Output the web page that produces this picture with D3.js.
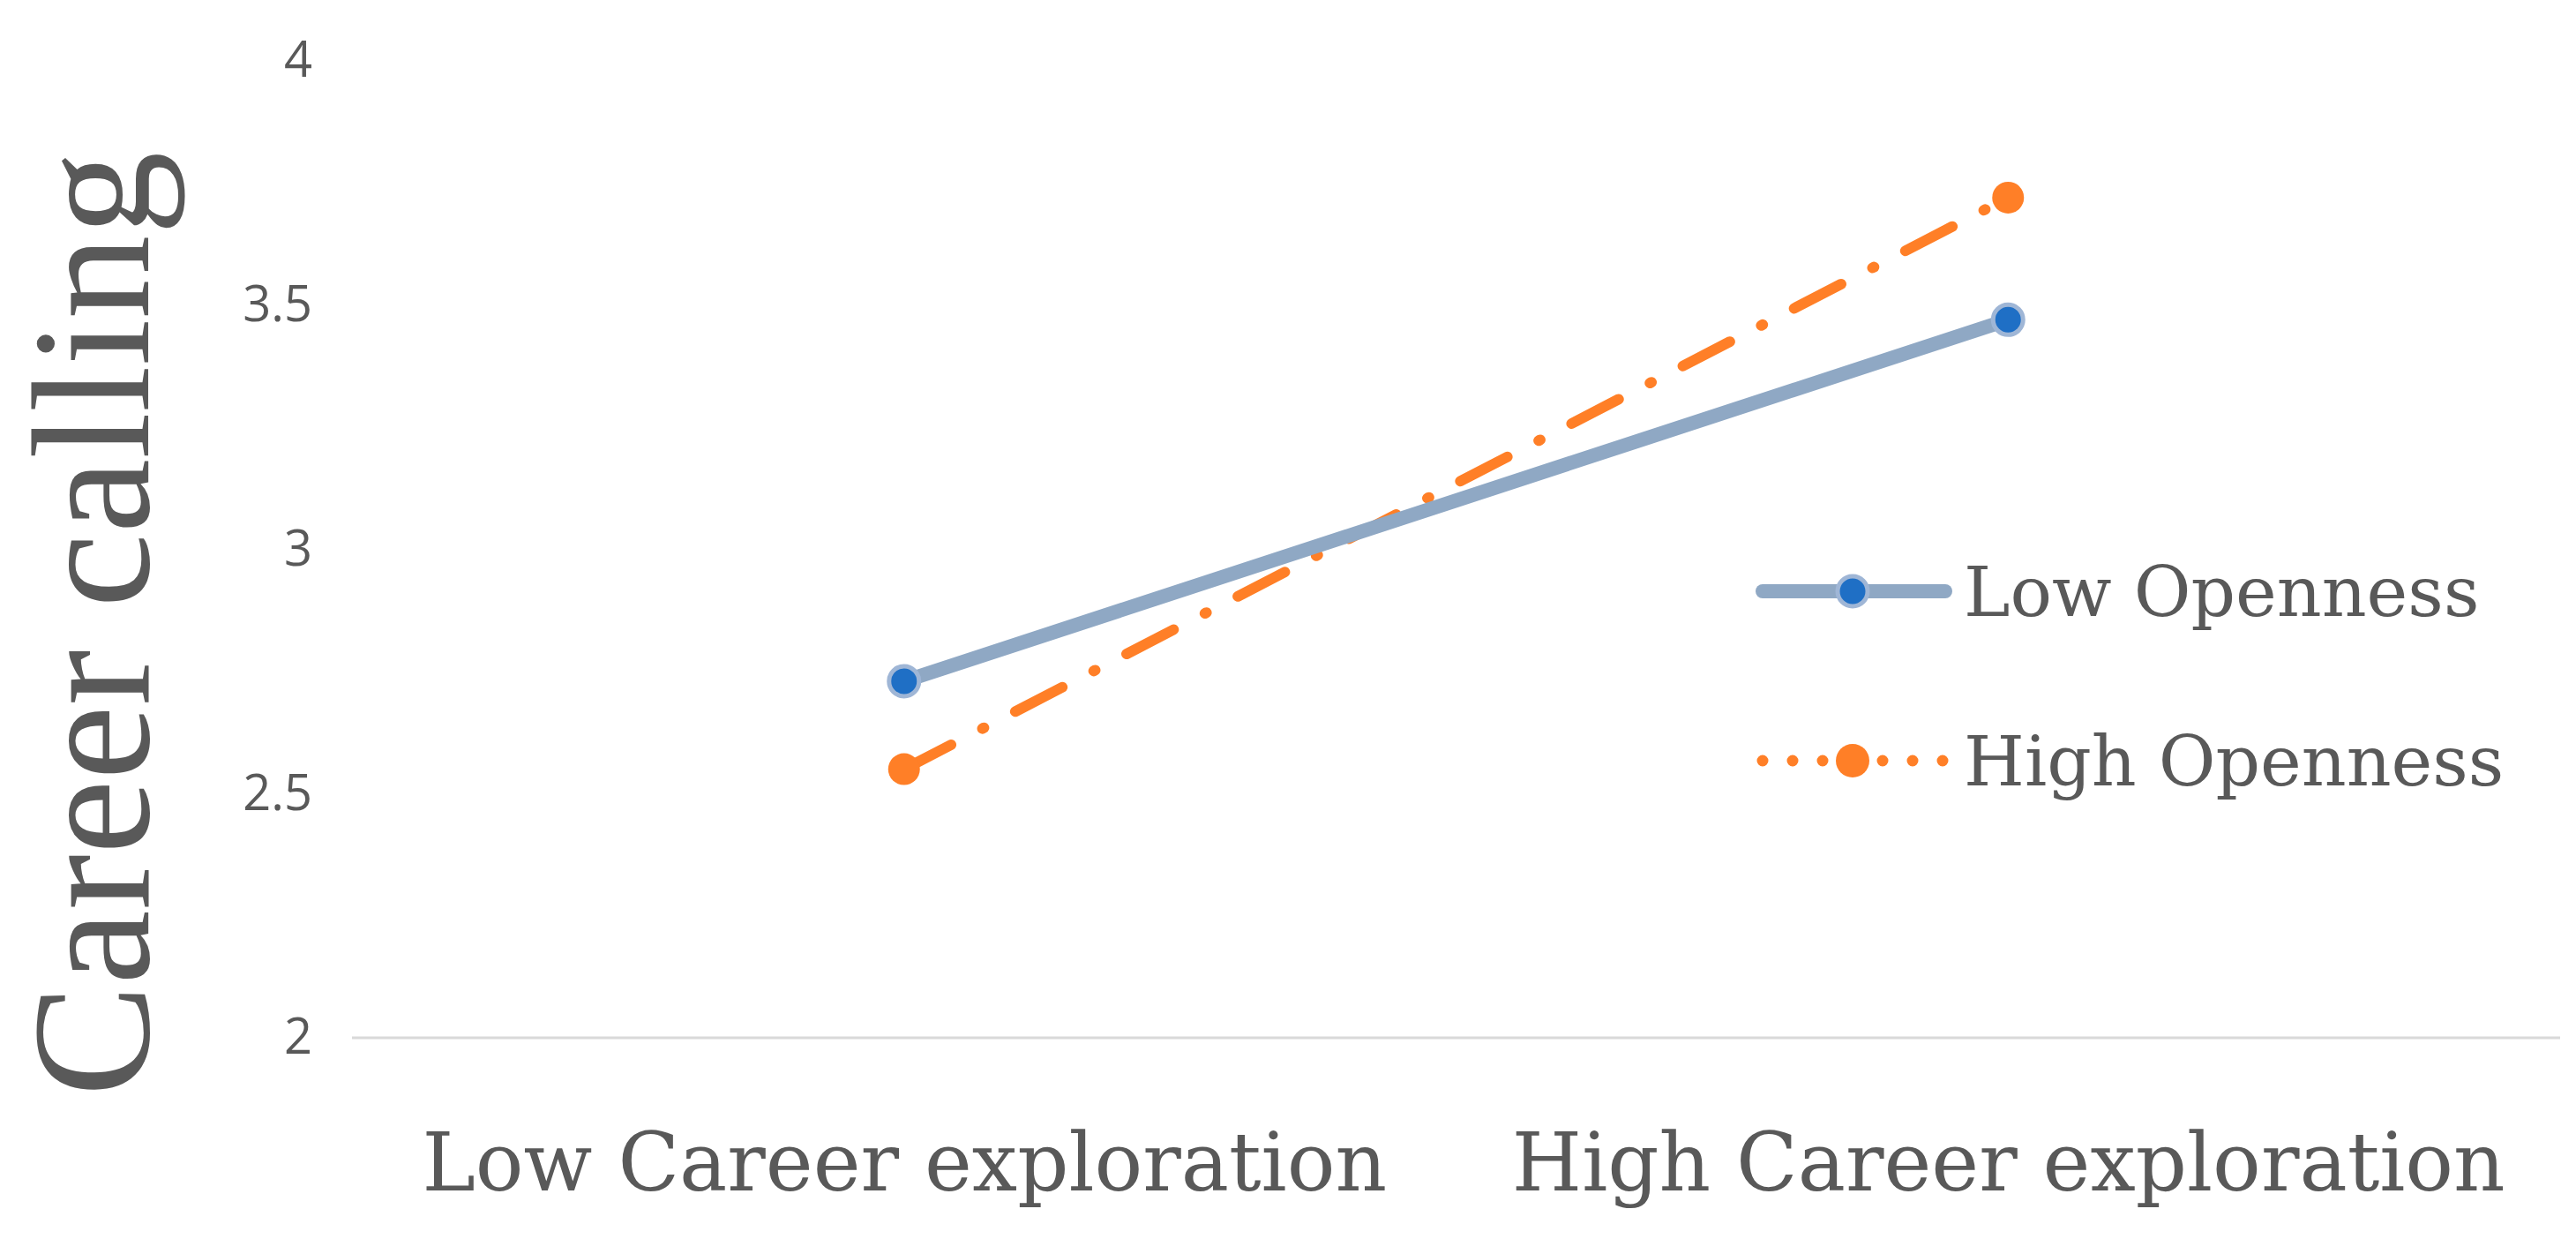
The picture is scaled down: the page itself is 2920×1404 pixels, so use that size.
<!DOCTYPE html>
<html lang="en">
<head>
<meta charset="UTF-8">
<title>Career calling</title>
<script src="https://d3js.org/d3.v7.min.js"></script>
<style>
  body { margin: 0; background: white; }
  svg { display: block; }
</style>
</head>
<body>
<script>
// Data
const categories = ["Low Career exploration", "High Career exploration"];
const lowOpenness = [2.73, 3.47];
const highOpenness = [2.55, 3.72];
const yTicks = [2, 2.5, 3, 3.5, 4];

const W = 2920, H = 1404;
const margin = {top: 69, right: 18, bottom: 228, left: 399};
const width = W - margin.left - margin.right;
const height = H - margin.top - margin.bottom;

const svg = d3.select("body").append("svg")
    .attr("width", W).attr("height", H);
const g = svg.append("g").attr("transform", `translate(${margin.left},${margin.top})`);

const x = d3.scalePoint().domain(categories).range([0, width]).padding(0.5);
const y = d3.scaleLinear().domain([2, 4]).range([height, 0]);

// Baseline
g.append("line")
    .attr("x1", 0).attr("x2", width)
    .attr("y1", y(2)).attr("y2", y(2))
    .attr("stroke", "#d9d9d9").attr("stroke-width", 3);

// Y axis labels
const yAxis = g.append("g").call(d3.axisLeft(y).tickValues(yTicks).tickSize(0).tickPadding(45)
    .tickFormat(d => d3.format("")(d)));
yAxis.select(".domain").remove();
yAxis.selectAll("text")
    .style("font-family", "'Open Sans', sans-serif")
    .style("font-size", "56px").attr("fill", "#595959");

// X axis labels
const xAxis = g.append("g").attr("transform", `translate(0,${height})`)
    .call(d3.axisBottom(x).tickSize(0).tickPadding(108));
xAxis.select(".domain").remove();
xAxis.selectAll("text")
    .style("font-family", "'DejaVu Serif', serif")
    .style("font-size", "91px").attr("fill", "#595959");

// Y title
svg.append("text")
    .attr("transform", `translate(168,707) rotate(-90)`)
    .attr("text-anchor", "middle")
    .style("font-family", "'Liberation Serif', serif")
    .style("font-size", "190px")
    .attr("fill", "#595959")
    .text("Career calling");

const line = d3.line().x((d, i) => x(categories[i])).y(d => y(d));

// High openness (dash-dot orange)
g.append("path").datum(highOpenness)
    .attr("d", line).attr("fill", "none")
    .attr("stroke", "#ff7f27").attr("stroke-width", 12)
    .attr("stroke-linecap", "round")
    .attr("stroke-dasharray", "60 40 2 40");
g.selectAll(".hi").data(highOpenness).enter().append("circle")
    .attr("cx", (d, i) => x(categories[i])).attr("cy", d => y(d))
    .attr("r", 18).attr("fill", "#ff7f27");

// Low openness (solid)
g.append("path").datum(lowOpenness)
    .attr("d", line).attr("fill", "none")
    .attr("stroke", "#8fa8c4").attr("stroke-width", 16)
    .attr("stroke-linecap", "round");
g.selectAll(".lo").data(lowOpenness).enter().append("circle")
    .attr("cx", (d, i) => x(categories[i])).attr("cy", d => y(d))
    .attr("r", 17).attr("fill", "#1f6fc5")
    .attr("stroke", "#9fb6d6").attr("stroke-width", 5);

// Legend
const legend = svg.append("g").attr("transform", "translate(1990,0)");
legend.append("line").attr("x1", 8).attr("x2", 215).attr("y1", 670).attr("y2", 670)
    .attr("stroke", "#8fa8c4").attr("stroke-width", 16).attr("stroke-linecap", "round");
legend.append("circle").attr("cx", 110).attr("cy", 670).attr("r", 17)
    .attr("fill", "#1f6fc5").attr("stroke", "#9fb6d6").attr("stroke-width", 5);
legend.append("line").attr("x1", 8).attr("x2", 215).attr("y1", 862).attr("y2", 862)
    .attr("stroke", "#ff7f27").attr("stroke-width", 13).attr("stroke-linecap", "round")
    .attr("stroke-dasharray", "0 34");
legend.append("circle").attr("cx", 110).attr("cy", 862).attr("r", 19).attr("fill", "#ff7f27");
legend.selectAll(".lt").data(["Low Openness", "High Openness"]).enter().append("text")
    .attr("x", 236).attr("y", (d, i) => i ? 862 : 670).attr("dy", "0.35em")
    .style("font-family", "'DejaVu Serif', serif")
    .style("font-size", "79px").attr("fill", "#595959")
    .text(d => d);
</script>
</body>
</html>
